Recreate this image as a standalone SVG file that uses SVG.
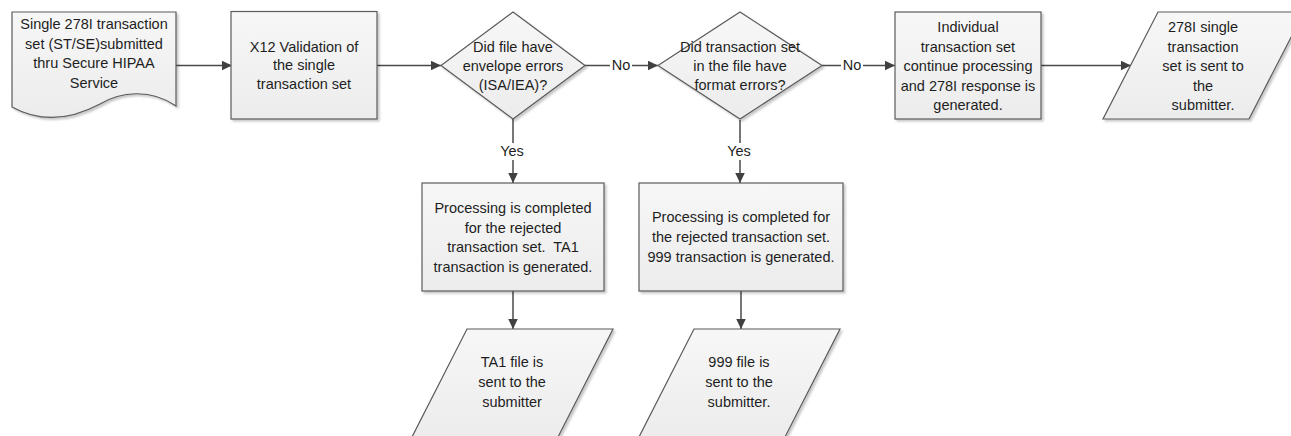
<svg xmlns="http://www.w3.org/2000/svg" width="1291" height="436" viewBox="0 0 1291 436">
  <defs>
    <linearGradient id="shapeFill" x1="0" y1="0" x2="0" y2="1">
      <stop offset="0" stop-color="#f7f7f7"/>
      <stop offset="1" stop-color="#ececec"/>
    </linearGradient>
    <filter id="shadow" x="-10%" y="-10%" width="130%" height="130%">
      <feDropShadow dx="2" dy="2" stdDeviation="1.2" flood-color="#000" flood-opacity="0.22"/>
    </filter>
    <marker id="arrow" markerUnits="userSpaceOnUse" markerWidth="11" markerHeight="10" refX="10.5" refY="5" orient="auto">
      <path d="M0,0 L10.5,5 L0,10 z" fill="#404040"/>
    </marker>
  </defs>
  <style>
    .shape { fill: url(#shapeFill); stroke: #5a5a5a; stroke-width: 1.2; filter: url(#shadow); }
    .label { font-family: "Liberation Sans", Arial, sans-serif; font-size: 14.5px; fill: #1e1e1e; text-anchor: middle; }
    .conn { fill: none; stroke: #4a4a4a; stroke-width: 1.5; }
    .tag { fill: #ffffff; }
  </style>
  <rect width="1291" height="436" fill="#ffffff"/>

  <!-- connectors -->
  <g id="connectors">
    <path class="conn" d="M176,65.5 H232" marker-end="url(#arrow)"/>
    <path class="conn" d="M377,65.5 H441" marker-end="url(#arrow)"/>
    <path class="conn" d="M585,65.5 H658" marker-end="url(#arrow)"/>
    <path class="conn" d="M822,65.5 H895" marker-end="url(#arrow)"/>
    <path class="conn" d="M1041,65.5 H1131" marker-end="url(#arrow)"/>
    <path class="conn" d="M513,119 V183" marker-end="url(#arrow)"/>
    <path class="conn" d="M740,120 V183" marker-end="url(#arrow)"/>
    <path class="conn" d="M513,291 V329" marker-end="url(#arrow)"/>
    <path class="conn" d="M741,291 V329" marker-end="url(#arrow)"/>
    <rect class="tag" x="610" y="57" width="22" height="16"/>
    <text class="label" x="621" y="70">No</text>
    <rect class="tag" x="841" y="57" width="22" height="16"/>
    <text class="label" x="852" y="70">No</text>
    <rect class="tag" x="499" y="143" width="28" height="17"/>
    <text class="label" x="512" y="156">Yes</text>
    <rect class="tag" x="725" y="143" width="28" height="17"/>
    <text class="label" x="739" y="156">Yes</text>
  </g>

  <!-- input document -->
  <g id="submit-doc">
    <path class="shape" d="M12,12 H176 V106 C150,88 120,92 100,104 C85,112 50,128 12,107 Z"/>
    <text class="label" x="94" y="29">Single 278I transaction</text>
    <text class="label" x="94" y="48.5">set (ST/SE)submitted</text>
    <text class="label" x="94" y="68">thru Secure HIPAA</text>
    <text class="label" x="94" y="87.5">Service</text>
  </g>

  <g id="x12-validation">
    <rect class="shape" x="231" y="11.5" width="146" height="107.5"/>
    <text class="label" x="304" y="51.5">X12 Validation of</text>
    <text class="label" x="304" y="70">the single</text>
    <text class="label" x="304" y="88.5">transaction set</text>
  </g>

  <g id="envelope-check">
    <path class="shape" d="M513,12 L585,65.5 L513,119 L441,65.5 Z"/>
    <text class="label" x="513" y="52">Did file have</text>
    <text class="label" x="513" y="71">envelope errors</text>
    <text class="label" x="513" y="90">(ISA/IEA)?</text>
  </g>

  <g id="format-check">
    <path class="shape" d="M740,12 L822,65.5 L740,119 L658,65.5 Z"/>
    <text class="label" x="740" y="52">Did transaction set</text>
    <text class="label" x="740" y="71">in the file have</text>
    <text class="label" x="740" y="90">format errors?</text>
  </g>

  <g id="continue-processing">
    <rect class="shape" x="895" y="12" width="146" height="107"/>
    <text class="label" x="968" y="32">Individual</text>
    <text class="label" x="968" y="51.5">transaction set</text>
    <text class="label" x="968" y="71">continue processing</text>
    <text class="label" x="968" y="90.5">and 278I response is</text>
    <text class="label" x="968" y="110">generated.</text>
  </g>

  <g id="send-278i">
    <path class="shape" d="M1158,12 H1304 L1249,119 H1103 Z"/>
    <text class="label" x="1203" y="32">278I single</text>
    <text class="label" x="1203" y="51.5">transaction</text>
    <text class="label" x="1203" y="71">set is sent to</text>
    <text class="label" x="1203" y="90.5">the</text>
    <text class="label" x="1203" y="110">submitter.</text>
  </g>

  <g id="ta1-reject">
    <rect class="shape" x="422" y="183" width="182" height="108"/>
    <text class="label" x="513" y="213">Processing is completed</text>
    <text class="label" x="513" y="232.5">for the rejected</text>
    <text class="label" x="513" y="252" xml:space="preserve">transaction set.  TA1</text>
    <text class="label" x="513" y="271.5">transaction is generated.</text>
  </g>

  <g id="format-reject">
    <rect class="shape" x="639" y="183" width="204" height="108"/>
    <text class="label" x="741" y="222">Processing is completed for</text>
    <text class="label" x="741" y="242">the rejected transaction set.</text>
    <text class="label" x="741" y="261.5">999 transaction is generated.</text>
  </g>

  <g id="send-ta1">
    <path class="shape" d="M467,329 H613 L558,437 H412 Z"/>
    <text class="label" x="512" y="367">TA1 file is</text>
    <text class="label" x="512" y="387">sent to the</text>
    <text class="label" x="512" y="406.5">submitter</text>
  </g>

  <g id="send-999">
    <path class="shape" d="M694,329 H840 L785,437 H639 Z"/>
    <text class="label" x="739" y="367">999 file is</text>
    <text class="label" x="739" y="387">sent to the</text>
    <text class="label" x="739" y="406.5">submitter.</text>
  </g>
</svg>
